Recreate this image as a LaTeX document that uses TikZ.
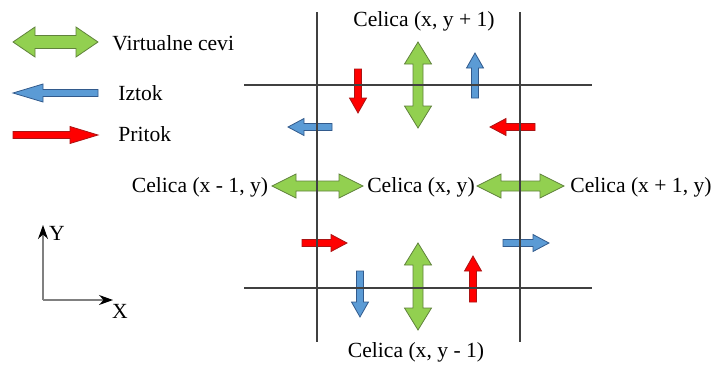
\documentclass[tikz,border=0pt]{standalone}
\usepackage{fontspec}
\setmainfont{Liberation Serif}
\usepackage{tikz}
\usetikzlibrary{arrows.meta}

\definecolor{pipegreen}{RGB}{146,208,80}
\definecolor{pipeedge}{RGB}{96,130,60}
\definecolor{outblue}{RGB}{91,155,213}
\definecolor{outedge}{RGB}{50,90,140}
\definecolor{inred}{RGB}{255,0,0}
\definecolor{inedge}{RGB}{170,20,20}

\tikzset{
    inflow/.style={fill=inred, draw=inedge, line width=0.4pt},
    outflow/.style={fill=outblue, draw=outedge, line width=0.4pt},
    virtual/.style={fill=pipegreen, draw=pipeedge, line width=0.4pt},
    gridline/.style={draw=black!75, line width=0.6pt},
    label/.style={inner sep=0pt, font=\fontsize{10.8}{13}\selectfont},
    % einfacher Blockpfeil: Laenge, Kopflaenge, halbe Kopfbreite, Stil
    pics/flow/.style n args={4}{code={
        \path[#4] (0,-3.5) -- (#1-#2,-3.5) -- (#1-#2,-#3) -- (#1,0)
            -- (#1-#2,#3) -- (#1-#2,3.5) -- (0,3.5) -- cycle;
    }},
    % Doppelpfeil: Laenge, Kopflaenge, halbe Kopfbreite, halbe Schaftbreite
    pics/pipe/.style n args={4}{code={
        \path[virtual] (0,0) -- (#2,-#3) -- (#2,-#4) -- (#1-#2,-#4) -- (#1-#2,-#3)
            -- (#1,0) -- (#1-#2,#3) -- (#1-#2,#4) -- (#2,#4) -- (#2,#3) -- cycle;
    }},
}

\begin{document}
\begin{tikzpicture}[x=0.5pt, y=-0.5pt]

    \useasboundingbox (0,0) rectangle (713,365);

    % Koordinaten des Gitters (Pixel, y nach unten)
    \def\xL{317}     % linke Zellgrenze
    \def\xR{520}     % rechte Zellgrenze
    \def\yT{85}      % obere Zellgrenze
    \def\yB{288}     % untere Zellgrenze

    % --- Legende ---
    \pic at (13,42) {pipe={85}{22}{15}{6.5}};
    \node[label, anchor=west] (lvirt) at (112,43) {Virtualne cevi};
    \pic[rotate=180] at (98,93) {flow={85}{30}{9}{outflow}};
    \node[label, anchor=west] (lout) at (118,93) {Iztok};
    \pic at (13,135) {flow={85}{28}{8.5}{inflow}};
    \node[label, anchor=west] (lin) at (118,134) {Pritok};

    % --- Zellen ---
    \node[label] (top) at (424,21) {Celica (x, y + 1)};
    \node[label] (bottom) at (416,352) {Celica (x, y - 1)};
    \node[label] (left) at (200,187) {Celica (x - 1, y)};
    \node[label] (centre) at (421,187) {Celica (x, y)};
    \node[label] (right) at (641,187) {Celica (x + 1, y)};

    % Virtuelle Rohre
    \pic[rotate=90] at (418,128) {pipe={86}{22}{13.5}{5}};
    \pic[rotate=90] at (418,330) {pipe={87}{22}{13.5}{5}};
    \pic at (272,186) {pipe={91}{24}{12}{5}};
    \pic at (477,186) {pipe={87}{24}{12}{5}};

    % Zu- und Abfluesse
    \pic[rotate=-90] at (358,69) {flow={44}{15}{8.5}{inflow}};
    \pic[rotate=90] at (475,98) {flow={45}{15}{8.5}{outflow}};
    \pic[rotate=180] at (332,127) {flow={44}{16}{8.5}{outflow}};
    \pic[rotate=180] at (535,127) {flow={45}{16}{8.5}{inflow}};
    \pic at (302,243) {flow={45}{16}{8.5}{inflow}};
    \pic at (503,243) {flow={46}{16}{8.5}{outflow}};
    \pic[rotate=-90] at (360,271) {flow={46}{15}{8.5}{outflow}};
    \pic[rotate=90] at (473,302) {flow={46}{15}{8.5}{inflow}};

    % --- Gitterlinien (ueber den Pfeilen) ---
    \draw[gridline] (244,\yT) -- (592,\yT);
    \draw[gridline] (244,\yB) -- (592,\yB);
    \draw[gridline] (\xL,12) -- (\xL,342);
    \draw[gridline] (\xR,12) -- (\xR,342);

    % --- Achsen ---
    \coordinate (origin) at (43,300);
    \coordinate (ytip) at (43,225);
    \coordinate (xtip) at (113,300);
    \draw[black!50, line width=0.6pt, -{Stealth[length=7pt, width=5pt, black]}] (origin) -- (ytip);
    \draw[black!50, line width=0.6pt, -{Stealth[length=7pt, width=5pt, black]}] (origin) -- (xtip);
    \node[label] (ylab) at (57,233) {Y};
    \node[label] (xlab) at (120,311) {X};

\end{tikzpicture}
\end{document}
